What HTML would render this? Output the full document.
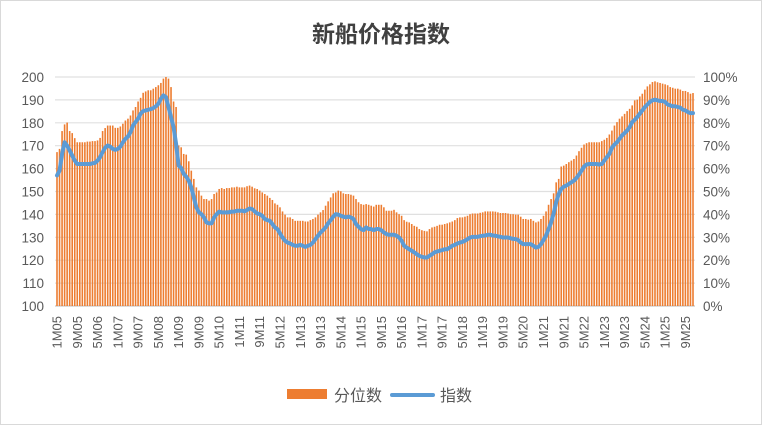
<!DOCTYPE html>
<html><head><meta charset="utf-8">
<style>
html,body{margin:0;padding:0;background:#fff;}
svg text{font-family:"Liberation Sans","Noto Sans CJK SC",sans-serif;}
</style></head>
<body>
<svg id="chart" width="762" height="425" viewBox="0 0 762 425" xmlns="http://www.w3.org/2000/svg">
<rect x="0.5" y="0.5" width="761" height="424" fill="#fff" stroke="#d9d9d9"/>
<text x="381" y="42" text-anchor="middle" font-size="23" font-weight="bold" fill="#404040">新船价格指数</text>
<g id="grid"></g>
<g id="bars"></g>
<g id="line"></g>
<g id="yl"></g>
<g id="yr"></g>
<g id="xl"></g>
<g>
<rect x="287" y="389" width="40" height="10" fill="#ed7d31"/>
<text x="334" y="401" font-size="16" fill="#595959">分位数</text>
<line x1="392" y1="395" x2="433" y2="395" stroke="#5b9bd5" stroke-width="4" stroke-linecap="round"/>
<text x="440" y="401" font-size="16" fill="#595959">指数</text>
</g>
</svg>
<script>
const percentile = [67.2,68.6,76.4,79.3,80.1,76.4,75.5,73.3,71.5,71.5,71.5,71.5,71.8,71.8,72,72,72.3,73.4,76.4,77.7,78.8,78.8,78.8,77.8,77.8,78.4,79.6,81,81.8,83.2,85.4,86.9,89.3,90.9,93.1,93.7,94.2,94.2,94.9,95.6,96.4,97.4,99.3,100,99.3,95.6,89.3,86.9,70.1,69.3,66.4,66.1,63.2,59.1,55.5,51.8,50.4,48.2,46.7,46.7,46,46.7,48.9,49.6,51.1,51.5,51.1,51.5,51.5,51.8,51.8,52.1,51.8,51.8,51.8,52.3,52.6,52.1,51.4,51.1,50.4,49.6,48.9,48.2,47.2,46.3,44.8,44.2,43.1,41.3,39.9,38.7,38.7,38,37.2,37.2,37.2,37.2,36.9,36.9,37.5,38,38.7,39.9,40.9,41.9,43.8,45.7,47.4,49.2,49.6,50.4,50.1,49.2,48.9,48.9,48.6,48.2,46.7,45.3,44.5,44.2,44.5,44.2,43.8,43.4,44.2,44.2,44.2,43.1,41.6,41.6,41.6,42,40.9,40.1,39.4,37.5,36.8,36.5,35.8,35,34.6,33.6,33.1,32.8,32.6,33.6,34.3,34.6,35,35.5,35.5,35.8,36.1,36.5,36.9,37.5,38.4,38.7,38.7,39,39.4,40.1,40.4,40.4,40.4,40.7,40.9,41.3,41.3,41.3,41.3,41.2,40.9,40.6,40.6,40.6,40.4,40.1,40.1,39.9,39.9,39,38,38,37.7,38,37.2,36.5,36.9,38,39.4,41.3,44.2,46.7,49.2,54,55.5,60.9,61.3,62,62.8,63.5,64.2,65.7,67.6,69.1,70.5,71.1,71.5,71.5,71.5,71.5,71.5,72,72.6,73.4,74.9,76.6,78.8,80.3,81.8,82.8,83.9,85.1,86.1,87.6,89.8,90.1,91.5,92.7,94.5,95.9,96.8,97.8,98.1,97.7,97.4,97.1,96.8,96.4,95.6,95.3,94.9,94.9,94.5,93.9,93.9,93.4,92.7,93];
const indexValues = [157,159.1,166.4,171.5,170,167.9,165.7,163.5,162,162,162,162,162,162,162.3,162.5,163.5,165,167.2,169.1,170.1,169.6,168.6,168.2,168.6,169.6,171.5,173,174,175.9,178.8,180.3,181.8,184,185.1,185.4,185.7,186,186.4,187.2,188.3,190.5,192,191.2,186.9,182.5,178.1,170.8,161.3,160.3,157.7,156.5,154.7,151.8,147.4,143.1,140.9,140.1,138.7,136.5,136.1,136.1,138.7,140.1,141.2,140.9,140.9,140.9,141,141.2,141.2,141.6,141.6,141.6,141.3,141.9,142.6,142.3,141.3,140.4,140.1,139.4,138,137.5,137.2,135.8,134.3,133.6,131.7,129.9,128.5,127.7,127.3,126.7,126.3,126.3,126.7,126.3,125.8,126.3,126.7,127.7,129.2,130.7,132.1,133.1,134.3,136.1,137.5,139,140.1,139.9,139.4,139,138.7,139,138.7,138,135.8,134.6,133.6,133.1,134.3,133.6,133.6,133.1,133.6,133.6,133.1,132.1,131.4,131.1,131.1,131.1,130.7,129.9,128.5,126.3,125.5,124.8,124.1,123.4,122.6,121.9,121.5,121.2,121.2,121.9,122.6,123.4,123.8,124.1,124.4,124.8,124.8,125.5,126.3,126.7,127.3,127.7,128,128.5,129.2,129.9,130.2,130.2,130.2,130.5,130.7,130.8,131.1,131.1,130.8,130.7,130.4,130.2,129.9,129.9,129.9,129.6,129.3,129.2,128.8,127.7,127,127,127,127,126.3,125.5,125.8,127,128.8,130.7,133.6,136.5,140.4,145.3,148.9,151.1,152.1,152.6,153.3,154,154.7,155.9,157.4,159.1,160.9,161.8,162,162,162,162,161.8,162,163.5,165,166.4,169.1,170.5,171.5,173,174.5,175.5,176.6,178.1,180.3,181.3,182.5,184,185.4,186.9,188,189.1,189.8,190.1,189.8,189.5,189.5,189.1,188,187.6,187.2,187.2,186.9,186.6,185.7,185.4,184.7,184.2,184.2];
const leftTicks = [100,110,120,130,140,150,160,170,180,190,200];
const rightTicks = ["0%","10%","20%","30%","40%","50%","60%","70%","80%","90%","100%"];
const monthLabels = ["1M05","9M05","5M06","1M07","9M07","5M08","1M09","9M09","5M10","1M11","9M11","5M12","1M13","9M13","5M14","1M15","9M15","5M16","1M17","9M17","5M18","1M19","9M19","5M20","1M21","9M21","5M22","1M23","9M23","5M24","1M25","9M25"];

const NS="http://www.w3.org/2000/svg";
const plotTop=77, plotBot=306, plotL=55, plotR=695;
const n=percentile.length;
const step=(693-57)/(n-1);
function x(i){return 57+i*step;}
function yL(v){return plotBot-(v-100)/100*(plotBot-plotTop);}
function yR(p){return plotBot-p/100*(plotBot-plotTop);}
function mk(tag,attrs,parent){const e=document.createElementNS(NS,tag);for(const k in attrs)e.setAttribute(k,attrs[k]);parent.appendChild(e);return e;}

const grid=document.getElementById('grid');
leftTicks.forEach((t,k)=>{
  const l=mk('line',{x1:plotL,x2:plotR,y1:yL(t),y2:yL(t),stroke:k===0?'#d0d0d0':'#e0e0e0','stroke-width':k===0?1.5:1.2},grid);
  
  
});
const yl=document.getElementById('yl');
leftTicks.forEach(t=>{
  const e=mk('text',{x:44,y:yL(t)+5,'text-anchor':'end','font-size':13.5,fill:'#595959'},yl);
  e.textContent=t;
  
  
});
const yr=document.getElementById('yr');
rightTicks.forEach((t,k)=>{
  const e=mk('text',{x:703,y:yR(k*10)+5,'text-anchor':'start','font-size':13.5,fill:'#595959'},yr);
  e.textContent=t;
  
  
});
const bars=document.getElementById('bars');
percentile.forEach((p,i)=>{
  const b=mk('rect',{x:x(i)-0.8,y:yR(p),width:1.6,height:plotBot-yR(p),fill:'#ed7d31'},bars);
  
  
});
const pts=indexValues.map((v,i)=>x(i).toFixed(2)+','+yL(v).toFixed(2)).join(' ');
const pl=mk('polyline',{points:pts,fill:'none',stroke:'#5b9bd5','stroke-width':4,'stroke-linejoin':'round','stroke-linecap':'round'},document.getElementById('line'));


const xl=document.getElementById('xl');
monthLabels.forEach((m,k)=>{
  const xx=x(k*8)+4.5;
  const e=mk('text',{x:0,y:0,transform:`translate(${xx.toFixed(1)},316) rotate(-90)`,'text-anchor':'end','font-size':13,fill:'#595959'},xl);
  e.textContent=m;
  
  
});
</script>
</body></html>
